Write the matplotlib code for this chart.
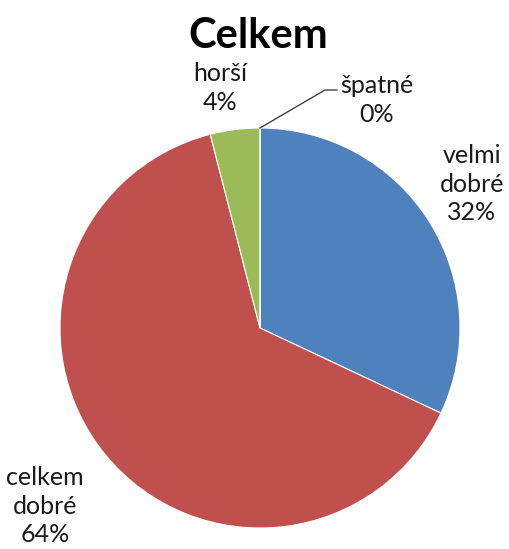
import matplotlib
matplotlib.use('Agg')
import matplotlib.pyplot as plt

labels = ['velmi\ndobré', 'celkem\ndobré', 'horší', 'špatné']
values = [32, 64, 4, 0]
colors = ['#4F81BD', '#C0504D', '#9BBB59', '#8064A2']

plt.rcParams['font.family'] = ['Lato', 'DejaVu Sans']

fig = plt.figure(figsize=(5.10, 5.49), dpi=100)
ax = fig.add_axes([0, 0, 1, 1])

wedges, _ = ax.pie(values, colors=colors, startangle=90, counterclock=False,
                   radius=1.0, wedgeprops=dict(edgecolor='white', linewidth=0.8))

ax.set_xlim(-1.3, 1.25)
ax.set_ylim(-1.105, 1.64)
ax.set_aspect('auto')
ax.axis('off')

# label positions (data units, pie radius = 1)
pos = {
    'velmi\ndobré': (1.06, 0.72),
    'celkem\ndobré': (-1.075, -0.89),
    'horší': (-0.2, 1.2),
    'špatné': (0.585, 1.14),
}
for lab, v in zip(labels, values):
    x, y = pos[lab]
    ax.text(x, y, f'{lab}\n{v}%', ha='center', va='center', fontsize=18,
            color='#1a1a1a', linespacing=1.28)

# leader line for the zero slice
ax.plot([0.0, 0.325, 0.385], [1.0, 1.19, 1.19], color='#404040', lw=1)

fig.text(258 / 510, 1 - 36 / 549, 'Celkem', ha='center', va='center',
         fontsize=30, fontweight='bold', color='black')

fig.savefig('out.png', dpi=100)
